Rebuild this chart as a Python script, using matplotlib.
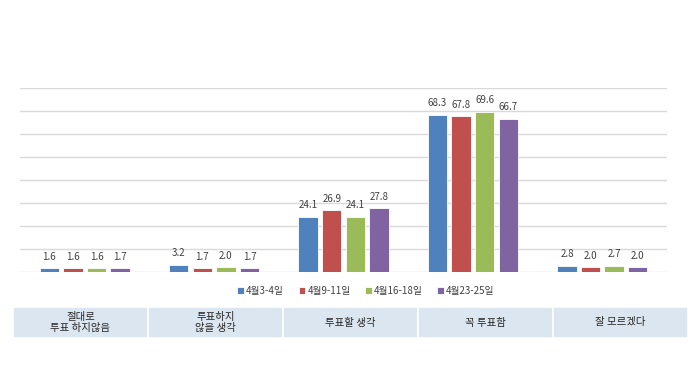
import matplotlib.pyplot as plt
import numpy as np
from matplotlib.patches import Rectangle

plt.rcParams['font.family'] = ['Noto Sans CJK KR', 'DejaVu Sans']

# Data
categories = ['절대로\n투표 하지않음', '투표하지\n않을 생각', '투표할 생각', '꼭 투표함', '잘 모르겠다']
series_names = ['4월3-4일', '4월9-11일', '4월16-18일', '4월23-25일']
values_0403 = [1.6, 3.2, 24.1, 68.3, 2.8]
values_0409 = [1.6, 1.7, 26.9, 67.8, 2.0]
values_0416 = [1.6, 2.0, 24.1, 69.6, 2.7]
values_0423 = [1.7, 1.7, 27.8, 66.7, 2.0]
colors = ['#4F81BD', '#C0504D', '#9BBB59', '#8064A2']

fig = plt.figure(figsize=(6.99, 3.65), dpi=100)
ax = fig.add_axes([20/699, 1 - 272/365, 647/699, 184/365])

x = np.arange(len(categories))
step = 0.182
width = 0.15
all_values = [values_0403, values_0409, values_0416, values_0423]
for i, (vals, name, c) in enumerate(zip(all_values, series_names, colors)):
    bars = ax.bar(x + (i - 1.5) * step, vals, width, color=c, label=name,
                  edgecolor='white', linewidth=0.6, zorder=3)
    for bar in bars:
        h = bar.get_height()
        ax.text(bar.get_x() + bar.get_width() / 2, h + 2.8, f'{h:.1f}',
                ha='center', va='bottom', fontsize=7, color='#404040')

ax.set_xlim(-0.5, len(categories) - 0.5)
ax.set_ylim(0, 80)
ax.set_yticks(np.arange(0, 81, 10))
ax.grid(axis='y', color='#D9D9D9', linewidth=1, zorder=0)
ax.tick_params(left=False, bottom=False, labelleft=False, labelbottom=False)
for s in ax.spines.values():
    s.set_visible(False)

# Legend
fig.legend(loc='center', bbox_to_anchor=(366/699, 1 - 291/365), ncol=4,
           frameon=False, fontsize=7, handlelength=0.7, handleheight=0.7,
           handletextpad=0.2, columnspacing=1.5, labelcolor='#404040')

# Category table row
left, right = 13, 688
top, bottom = 307, 338
cell_w = (right - left) / len(categories)
for i, cat in enumerate(categories):
    x0 = left + i * cell_w
    fig.patches.append(Rectangle((x0 / 699, 1 - bottom / 365), cell_w / 699,
                                 (bottom - top) / 365, transform=fig.transFigure,
                                 facecolor='#DCE6F1', edgecolor='white', linewidth=1.2))
    fig.text((x0 + cell_w / 2) / 699, 1 - (top + bottom) / 2 / 365, cat,
             ha='center', va='center', fontsize=7.5, color='#262626', linespacing=1.1)

fig.savefig('out.png', dpi=100)
